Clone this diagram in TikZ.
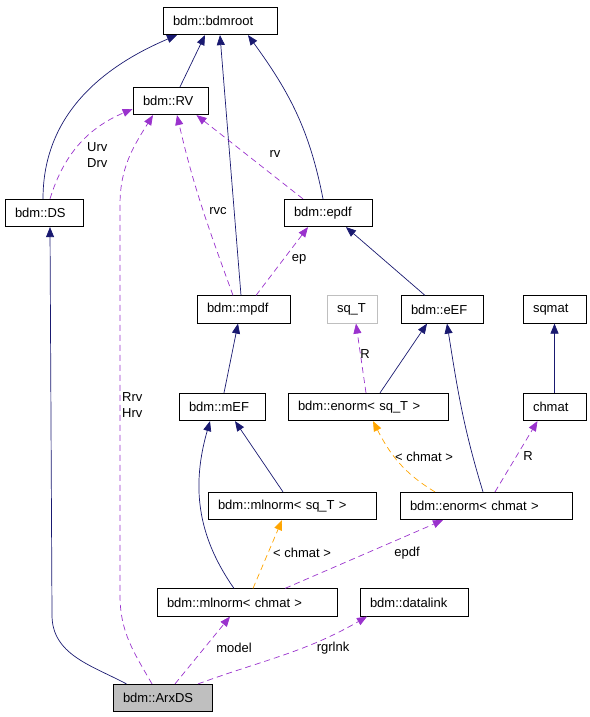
\documentclass[tikz,border=0pt]{standalone}
\usepackage{fontspec}
\setmainfont{Liberation Sans}
\usepackage{tikz}
\usetikzlibrary{arrows.meta, positioning, calc}
\definecolor{inhcol}{HTML}{191970}
\definecolor{usecol}{HTML}{9A32CD}
\definecolor{tplcol}{HTML}{FFA500}
\definecolor{boxgray}{HTML}{BFBFBF}
\tikzset{%
	cls/.style={draw, text width=#1, align=left, inner xsep=10pt, inner ysep=0pt,%
		minimum height=27.5pt, line width=0.7pt},
	focus/.style={fill=boxgray},
	ghost/.style={draw=boxgray},
	lbl/.style={inner sep=0pt, align=left},
	inh/.style={-{Triangle[length=10pt,width=8pt]}, inhcol, line width=0.7pt},
	member/.style={-{Triangle[length=10pt,width=8pt]}, usecol, line width=0.7pt,%
		dash pattern=on 6pt off 4pt},
	tpl/.style={member, tplcol}
}

\begin{document}
\begin{tikzpicture}[x=1pt, y=1pt, font=\fontsize{13}{16.5}\selectfont]
  \useasboundingbox (0,0) rectangle (589,-717);

  \node[cls=94pt] (root) at (220,-21) {bdm::bdmroot};
  \node[cls=55pt] (rv) at (170.5,-101) {bdm::RV};
  \node[cls=58pt] (ds) at (44,-213) {bdm::DS};
  \node[cls=68pt] (epdf) at (328,-213) {bdm::epdf};
  \node[cls=73pt] (mpdf) at (243.5,-309.5) {bdm::mpdf};
  \node[cls=30pt, ghost] (sqT) at (352,-309.5) {sq\_T};
  \node[cls=62pt] (eef) at (442,-309.5) {bdm::eEF};
  \node[cls=43pt] (sqmat) at (554.5,-309.5) {sqmat};
  \node[cls=66pt] (mef) at (222,-407) {bdm::mEF};
  \node[cls=140pt] (enormsq) at (368,-407) {bdm::enorm< sq\_T >};
  \node[cls=43pt] (chmat) at (554.5,-407) {chmat};
  \node[cls=148pt] (mlnormsq) at (292,-506) {bdm::mlnorm< sq\_T >};
  \node[cls=152pt] (enormch) at (486,-506) {bdm::enorm< chmat >};
  \node[cls=160pt] (mlnormch) at (247,-602.5) {bdm::mlnorm< chmat >};
  \node[cls=88pt] (datalink) at (414,-602.5) {bdm::datalink};
  \node[cls=79pt, focus] (arxds) at (162.5,-698) {bdm::ArxDS};

  \coordinate (arxbend) at (52,-615);
  \coordinate (rrvlow) at (120,-595);
  \coordinate (rrvhigh) at (120,-205);

  \draw[inh] ([xshift=9.5pt]rv.north) -- ([xshift=-15pt]root.south);
  \draw[inh] ([xshift=-1pt]ds.north) to[out=90,in=203] ([xshift=-43pt]root.south);
  \draw[inh] ([xshift=-2.5pt]mpdf.north) -- (root.south);
  \draw[inh] ([xshift=-5pt]epdf.north) to[out=101,in=-54] ([xshift=28pt]root.south);
  \draw[inh] ([xshift=-17pt]eef.north) -- ([xshift=18pt]epdf.south);
  \draw[inh] ([xshift=2pt]mef.north) -- ([xshift=-5.5pt]mpdf.south);
  \draw[inh] ([xshift=12pt]enormsq.north) -- ([xshift=-15pt]eef.south);
  \draw[inh] ([xshift=-3pt]enormch.north) to[out=107,in=-81] ([xshift=5pt]eef.south);
  \draw[inh] (chmat.north) -- (sqmat.south);
  \draw[inh] ([xshift=-9pt]mlnormsq.north) -- ([xshift=13pt]mef.south);
  \draw[inh] ([xshift=-13pt]mlnormch.north) to[out=125,in=254] ([xshift=-12pt]mef.south);
  \draw[inh] ([xshift=-36pt]arxds.north) to[out=152,in=-90] (arxbend) -- ([xshift=6pt]ds.south);

  \draw[member] ([xshift=6pt]ds.north) to[out=73,in=203] ([yshift=-8pt]rv.west);
  \draw[member] ([xshift=-10.5pt]arxds.north) to[out=120,in=-90] (rrvlow) -- (rrvhigh)
    to[out=90,in=-122] ([xshift=-17.5pt]rv.south);
  \draw[member] ([xshift=-10.5pt]mpdf.north) to[out=110,in=-77] ([xshift=6.5pt]rv.south);
  \draw[member] ([xshift=-25pt]epdf.north) -- ([xshift=26pt]rv.south);
  \draw[member] ([xshift=12.5pt]mpdf.north) -- ([xshift=-20pt]epdf.south);
  \draw[member] ([xshift=-2pt]enormsq.north) -- ([xshift=4pt]sqT.south);
  \draw[member] ([xshift=9pt]enormch.north) -- ([xshift=-17pt]chmat.south);
  \draw[tpl] ([xshift=-51pt]enormch.north) to[out=149,in=-63] ([xshift=5pt]enormsq.south);
  \draw[tpl] ([xshift=6pt]mlnormch.north) -- ([xshift=-10pt]mlnormsq.south);
  \draw[member] ([xshift=38pt]mlnormch.north) -- ([xshift=-43pt]enormch.south);
  \draw[member] ([xshift=12.5pt]arxds.north) -- ([xshift=-17pt]mlnormch.south);
  \draw[member] ([xshift=35.5pt]arxds.north) to[out=20,in=-150] ([xshift=-47pt]datalink.south);

  \node[lbl, anchor=west] (lurv) at (87,-155) {Urv\\Drv};
  \node[lbl, anchor=west] (lrrv) at (122,-405) {Rrv\\Hrv};
  \node[lbl] (lrvc) at (218,-211) {rvc};
  \node[lbl] (lrv) at (275,-154) {rv};
  \node[lbl] (lep) at (299,-259) {ep};
  \node[lbl] (lrsq) at (365,-354) {R};
  \node[lbl] (lrch) at (528,-456) {R};
  \node[lbl] (lchenorm) at (424,-457) {< chmat >};
  \node[lbl] (lchmlnorm) at (302,-553) {< chmat >};
  \node[lbl] (lepdf) at (407,-553) {epdf};
  \node[lbl] (lmodel) at (234,-648) {model};
  \node[lbl] (lrgr) at (333,-648) {rgrlnk};
\end{tikzpicture}
\end{document}
